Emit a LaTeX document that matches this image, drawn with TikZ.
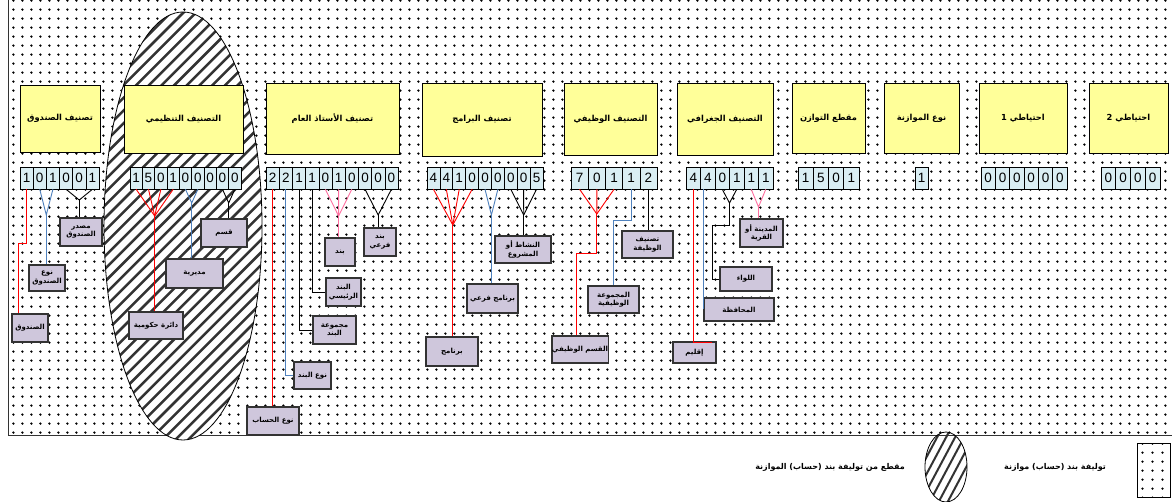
\documentclass[tikz,border=0pt]{standalone}
\usepackage{fontspec}
\setmainfont{Liberation Sans}
\newfontfamily\arabicfont[Script=Arabic]{DejaVu Sans}
\TeXXeTstate=1
\usetikzlibrary{patterns.meta}
\definecolor{boxyellow}{HTML}{FFFF99}
\definecolor{boxlav}{HTML}{CFC7DC}
\definecolor{cellcol}{HTML}{DAEEF3}
\definecolor{lblue}{HTML}{4F81BD}
\definecolor{lpink}{HTML}{FF6FA0}
\newcommand\AR[1]{\beginR #1\endR}
\tikzdeclarepattern{
  name=griddots,
  type=uncolored,
  bounding box={(0pt,0pt) and (9.4pt,9.4pt)},
  tile size={(9.4pt,9.4pt)},
  code={\fill (4.7pt,4.7pt) circle [radius=1.35pt];}
}
\newcommand\bx[7]{\node[#1, minimum width={(#5-#3)*1pt}, minimum height={(#6-#4)*1pt}] (#2) at ({(#3+#5)/2},{(#4+#6)/2}) {#7};}
\newcommand\cellrow[5]{\foreach \d [count=\i] in {#5} {\node[cell, minimum width={(#3-#2)/#4*1pt}] (#1-\i) at ({#2+(\i-0.5)*(#3-#2)/#4},178) {\d};}}
\begin{document}
\begin{tikzpicture}[x=1pt,y=-1pt,
  ybox/.style={draw=black, line width=0.8pt, fill=boxyellow, inner sep=0pt, font=\arabicfont\bfseries\fontsize{8.3}{10}\selectfont},
  lbox/.style={draw=black!80, line width=1.1pt, fill=boxlav, inner sep=0pt, align=center, font=\arabicfont\bfseries\fontsize{7}{8.4}\selectfont},
  cell/.style={draw=black, line width=0.6pt, fill=cellcol, inner sep=0pt, minimum height=22pt, font=\fontsize{13.5}{14}\selectfont},
  redl/.style={draw=red, line width=0.9pt},
  bluel/.style={draw=lblue, line width=0.9pt},
  pinkl/.style={draw=lpink, line width=0.9pt},
  blkl/.style={draw=black, line width=0.9pt},
  legtext/.style={font=\arabicfont\bfseries\fontsize{8}{9}\selectfont, inner sep=0pt}
]
\useasboundingbox (0,0) rectangle (1172,502);
\fill[white] (0,0) rectangle (1172,502);
\fill[pattern=griddots, pattern color=black] (8,-2) rectangle (1176,435);
\draw[line width=1pt, black!80] (8,-2) rectangle (1176,435);

% hatched ellipse
\begin{scope}
\clip (183,226) ellipse [x radius=79, y radius=214];
\fill[white] (100,0) rectangle (270,445);
\foreach \k in {-28,...,22} \draw[line width=2.5pt, black!80] ({\k*12.7},450) -- ++(450,-450);
\end{scope}
\draw[line width=0.8pt] (183,226) ellipse [x radius=79, y radius=214];

% title boxes
\bx{ybox}{t1}{20}{85}{100}{152}{\AR{تصنيف الصندوق}}
\bx{ybox}{t2}{124}{85}{243}{153}{\AR{التصنيف التنظيمي}}
\bx{ybox}{t3}{266}{83}{399}{154}{\AR{تصنيف الأستاذ العام}}
\bx{ybox}{t4}{422}{83}{542}{156}{\AR{تصنيف البرامج}}
\bx{ybox}{t5}{564}{83}{657}{155}{\AR{التصنيف الوظيفي}}
\bx{ybox}{t6}{677}{83}{773}{155}{\AR{التصنيف الجغرافي}}
\bx{ybox}{t7}{792}{83}{865}{153}{\AR{مقطع التوازن}}
\bx{ybox}{t8}{884}{83}{959}{153}{\AR{نوع الموازنة}}
\bx{ybox}{t9}{979}{83}{1067}{153}{\AR{احتياطي 1}}
\bx{ybox}{t10}{1089}{83}{1168}{153}{\AR{احتياطي 2}}

% digit cells
\cellrow{g1}{20}{99}{6}{1,0,1,0,0,1}
\cellrow{g2}{130}{241}{9}{1,5,0,1,0,0,0,0,0}
\cellrow{g3}{266}{398}{10}{2,2,1,1,0,1,0,0,0,0}
\cellrow{g4}{427}{543}{9}{4,4,1,0,0,0,0,0,5}
\cellrow{g5}{571}{657}{5}{7,0,1,1,2}
\cellrow{g6}{686}{773}{6}{4,4,0,1,1,1}
\cellrow{g7}{798}{859}{4}{1,5,0,1}
\cellrow{g8}{915}{928}{1}{1}
\cellrow{g9}{981}{1067}{6}{0,0,0,0,0,0}
\cellrow{g10}{1101}{1160}{4}{0,0,0,0}

% label boxes
\bx{lbox}{a1}{12}{314}{48}{342}{\AR{الصندوق}}
\bx{lbox}{a2}{29}{265}{65}{291}{\AR{نوع}\\\AR{الصندوق}}
\bx{lbox}{a3}{60}{218}{102}{246}{\AR{مصدر}\\\AR{الصندوق}}
\bx{lbox}{b1}{129}{312}{183}{339}{\AR{دائرة حكومية}}
\bx{lbox}{b2}{166}{259}{223}{288}{\AR{مديرية}}
\bx{lbox}{b3}{201}{219}{247}{247}{\AR{قسم}}
\bx{lbox}{c1}{247}{407}{299}{435}{\AR{نوع الحساب}}
\bx{lbox}{c2}{294}{362}{331}{389}{\AR{نوع البند}}
\bx{lbox}{c3}{313}{316}{356}{344}{\AR{مجموعة}\\\AR{البند}}
\bx{lbox}{c4}{326}{278}{361}{306}{\AR{البند}\\\AR{الرئيسي}}
\bx{lbox}{c5}{325}{238}{355}{266}{\AR{بند}}
\bx{lbox}{c6}{364}{228}{396}{256}{\AR{بند}\\\AR{فرعي}}
\bx{lbox}{d1}{426}{337}{478}{366}{\AR{برنامج}}
\bx{lbox}{d2}{467}{284}{518}{313}{\AR{برنامج فرعي}}
\bx{lbox}{d3}{495}{236}{551}{263}{\AR{النشاط أو}\\\AR{المشروع}}
\bx{lbox}{e1}{554}{336}{606}{363}{\AR{القسم الوظيفي}}
\bx{lbox}{e2}{588}{286}{639}{313}{\AR{المجموعة}\\\AR{الوظيفية}}
\bx{lbox}{e3}{622}{231}{673}{258}{\AR{تصنيف}\\\AR{الوظيفة}}
\bx{lbox}{f1}{673}{342}{716}{363}{\AR{إقليم}}
\bx{lbox}{f2}{704}{298}{774}{321}{\AR{المحافظة}}
\bx{lbox}{f3}{720}{267}{772}{291}{\AR{اللواء}}
\bx{lbox}{f4}{740}{219}{783}{247}{\AR{المدينة أو}\\\AR{القرية}}

% connector junctions
\coordinate (r1) at (18,243);
\coordinate (v1b) at (46.3,215);
\coordinate (v1k) at (79.25,200);
\coordinate (v2r) at (154.7,216);
\coordinate (v2b) at (191.7,203);
\coordinate (v2k) at (228.7,203);
\coordinate (v3p) at (338.6,216);
\coordinate (v3k) at (378.2,215);
\coordinate (v4r) at (452.8,225);
\coordinate (v4b) at (491.4,215);
\coordinate (v4k) at (523.7,215);
\coordinate (v5r) at (596.8,214);
\coordinate (k5r) at (576,253);
\coordinate (k5b) at (613,220);
\coordinate (v6k) at (729.5,203);
\coordinate (k6k) at (712,225);
\coordinate (v6p) at (758.5,207);
\coordinate (k6r) at (712,342);

% group 1
\draw[redl] (g1-1.south) |- (r1) -- (r1 |- a1.north);
\draw[bluel] (g1-2.south) -- (v1b) -- (g1-3.south);
\draw[bluel] (v1b) -- (v1b |- a2.north);
\draw[blkl] (g1-4.south) -- (v1k) -- (g1-6.south);
\draw[blkl] (v1k) -- (v1k |- a3.north);
% group 2
\foreach \j in {1,...,4} \draw[redl] (g2-\j.south) -- (v2r);
\draw[redl] (v2r) -- (v2r |- b1.north);
\draw[bluel] (g2-5.south) -- (v2b) -- (g2-6.south);
\draw[bluel] (v2b) -- (v2b |- b2.north);
\draw[blkl] (g2-8.south) -- (v2k) -- (g2-9.south);
\draw[blkl] (v2k) -- (v2k |- b3.north);
% group 3
\draw[redl] (g3-1.south) -- (g3-1.south |- c1.north);
\draw[bluel] (g3-2.south) |- (c2.west);
\draw[blkl] (g3-3.south) |- (c3.west);
\draw[blkl] (g3-4.south) |- (c4.west);
\foreach \j in {5,6,7} \draw[pinkl] (g3-\j.south) -- (v3p);
\draw[pinkl] (v3p) -- (v3p |- c5.north);
\draw[blkl] (g3-8.south) -- (v3k) -- (g3-10.south);
\draw[blkl] (v3k) -- (v3k |- c6.north);
% group 4
\foreach \j in {1,...,4} \draw[redl] (g4-\j.south) -- (v4r);
\draw[redl] (v4r) -- (v4r |- d1.north);
\draw[bluel] (g4-5.south) -- (v4b) -- (g4-6.south);
\draw[bluel] (v4b) -- (v4b |- d2.north);
\foreach \j in {7,8,9} \draw[blkl] (g4-\j.south) -- (v4k);
\draw[blkl] (v4k) -- (v4k |- d3.north);
% group 5
\foreach \j in {1,2,3} \draw[redl] (g5-\j.south) -- (v5r);
\draw[redl] (v5r) |- (k5r) -- (k5r |- e1.north);
\draw[bluel] (g5-4.south) |- (k5b) -- (k5b |- e2.north);
\draw[blkl] (g5-5.south) -- (g5-5.south |- e3.north);
% group 6
\draw[redl] (g6-1.south) |- (k6r);
\draw[bluel] (g6-2.south -| f2.west) -- (f2.west);
\draw[blkl] (g6-3.south) -- (v6k) -- (g6-4.south);
\draw[blkl] (v6k) |- (k6k) |- (f3.west);
\draw[pinkl] (g6-5.south) -- (v6p) -- (g6-6.south);
\draw[pinkl] (v6p) -- (v6p |- f4.north);

% legend
\fill[pattern=griddots, pattern color=black] (1137,443) rectangle (1170,497);
\draw[line width=0.8pt] (1137,443) rectangle (1170,497);
\node[legtext, anchor=east] (lg1) at (1106,467) {\AR{توليفة بند (حساب) موازنة}};
\begin{scope}
\clip (946,467) ellipse [x radius=21, y radius=35];
\foreach \k in {-10,...,4} \draw[line width=2pt, black!80] ({946+\k*9},505) -- ++(40,-75);
\end{scope}
\draw[line width=0.8pt] (946,467) ellipse [x radius=21, y radius=35];
\node[legtext, anchor=east] (lg2) at (905,467) {\AR{مقطع من توليفة بند (حساب) الموازنة}};
\end{tikzpicture}
\end{document}
